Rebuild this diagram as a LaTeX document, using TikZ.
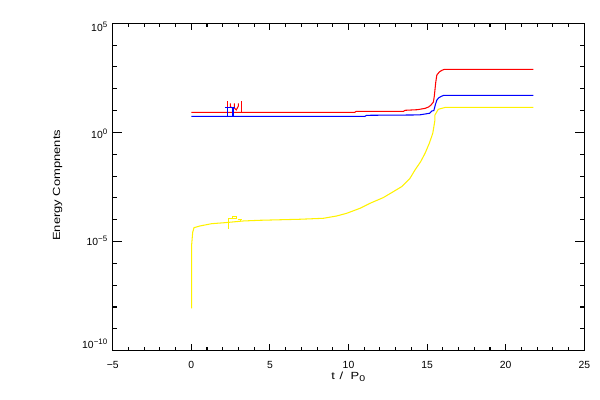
\documentclass[tikz,border=0pt]{standalone}
\usepackage{fontspec}
\setmainfont{Liberation Sans}
\newfontfamily\widefont[FakeStretch=1.25]{Liberation Sans}
\usetikzlibrary{calc}
\newcommand\tenpow[1]{10\raisebox{2.3pt}{\fontsize{4.5}{4.5}\selectfont #1}}
\newcommand\xtick[2]{
  \draw (#1,-10) -- ++(0pt,#2);
  \draw (#1,5) -- ++(0pt,-#2);
}
\newcommand\ytick[2]{
  \draw (-5,#1) -- ++(#2,0pt);
  \draw (25,#1) -- ++(-#2,0pt);
}

\begin{document}
\begin{tikzpicture}[line width=0.6pt,
    ticklab/.style={font=\fontsize{5.9}{7}\selectfont,inner sep=0pt},
    axtitle/.style={font=\widefont\fontsize{5.9}{7}\selectfont,inner sep=0pt},
    curve/.style={line width=0.6pt,line join=miter}]
  \useasboundingbox (0,0) rectangle (12,8);

  \node[axtitle,rotate=90] (ylabel) at (1.15,4.294) {Energy Compnents};
  \node[axtitle,anchor=base] (xlabel) at (6.966,0.40)
    {t\hspace{2.6pt}/\hspace{4.2pt}P\raisebox{-1pt}{\fontsize{4.8}{4.8}\selectfont 0}};

  \begin{scope}[shift={(3.826cm,5.352cm)},x=0.3144cm,y=0.4365cm]
    % frame and ticks
    \draw (-5,-10) rectangle (25,5);
    \foreach \t in {-5,...,25} { \xtick{\t}{1.87pt} }
    \foreach \t in {-5,0,...,25} { \xtick{\t}{3.74pt} }
    \foreach \e in {-10,...,5} { \ytick{\e}{2.67pt} }
    \foreach \e in {-10,-5,0,5} { \ytick{\e}{5.33pt} }

    \foreach \t/\s [count=\i] in {-5/−5,0/0,5/5,10/10,15/15,20/20,25/25}
      \node[ticklab,anchor=base] (xl\i) at ($(\t,-10)+(0,-0.366cm)$) {\s};
    \foreach \e/\s/\d [count=\i] in {-10/−10/0.034,-5/−5/-0.082,0/0/-0.118,5/5/-0.168}
      \node[ticklab,anchor=base east] (yl\i) at ($(-5,\e)+(-0.1cm,\d cm)$) {\tenpow{\s}};

    % red
    \draw[curve,red] (0,0.921) -- (10.4,0.921) -- (10.5,0.967) -- (13.5,0.967)
      -- (13.6,1.012) -- (14.38,1.04) -- (14.87,1.10) -- (15.08,1.16)
      -- (15.23,1.24) -- (15.40,1.39) -- (15.46,1.67) -- (15.55,2.30)
      -- (15.62,2.63) -- (15.78,2.77) -- (15.94,2.845) -- (16.11,2.891)
      -- (21.76,2.891);
    \draw[curve,red] (2.32,0.921) -- (2.32,1.438);
    \draw[curve,red] (2.48,1.333) -- (2.48,1.17) -- (2.62,1.12);
    \draw[curve,red] (2.74,1.333) -- (2.74,1.12) -- (2.86,1.03) -- (2.99,1.2) -- (2.99,1.333);
    \draw[curve,red] (3.18,0.921) -- (3.18,1.438);

    % blue
    \draw[curve,blue] (0,0.738) -- (11.05,0.738) -- (11.15,0.783) -- (14.5,0.80)
      -- (15.15,0.875) -- (15.30,0.98) -- (15.43,1.0) -- (15.52,1.255)
      -- (15.62,1.484) -- (15.75,1.59) -- (15.91,1.654) -- (16.07,1.70)
      -- (21.76,1.70);
    \draw[curve,blue] (2.14,1.15) -- (2.78,1.15);
    \draw[curve,blue] (2.32,1.15) -- (2.32,0.738);
    \draw[curve,blue] (2.60,1.15) -- (2.60,0.738);
    \draw[curve,blue] (2.66,1.15) -- (2.66,0.738);

    % yellow
    \draw[curve,yellow] (0.025,-8.058) -- (0.025,-5.126) -- (0.089,-4.576)
      -- (0.172,-4.366) -- (0.553,-4.288) -- (1.298,-4.182) -- (2.144,-4.137)
      -- (3.308,-4.059) -- (4.37,-4.027) -- (6.91,-3.98) -- (8.40,-3.936)
      -- (9.25,-3.830) -- (9.885,-3.707) -- (10.73,-3.478) -- (11.37,-3.249)
      -- (12.21,-2.989) -- (12.85,-2.716) -- (13.38,-2.487) -- (13.91,-2.104)
      -- (14.23,-1.722) -- (14.59,-1.341) -- (14.87,-0.958) -- (15.14,-0.50)
      -- (15.36,-0.04) -- (15.50,0.57) -- (15.50,0.797) -- (15.71,1.058)
      -- (16.18,1.15) -- (21.76,1.15);
    \draw[curve,yellow] (2.32,-3.935) -- (2.89,-3.935);
    \draw[curve,yellow] (2.61,-3.935) -- (2.61,-3.862) -- (2.89,-3.862) -- (2.89,-3.935);
    \draw[curve,yellow] (2.35,-3.935) -- (2.35,-4.425);
    \draw[curve,yellow] (3.0,-3.98) -- (3.2,-3.98);
    \draw[curve,yellow] (3.1,-3.98) -- (3.1,-4.06);
  \end{scope}
\end{tikzpicture}
\end{document}
